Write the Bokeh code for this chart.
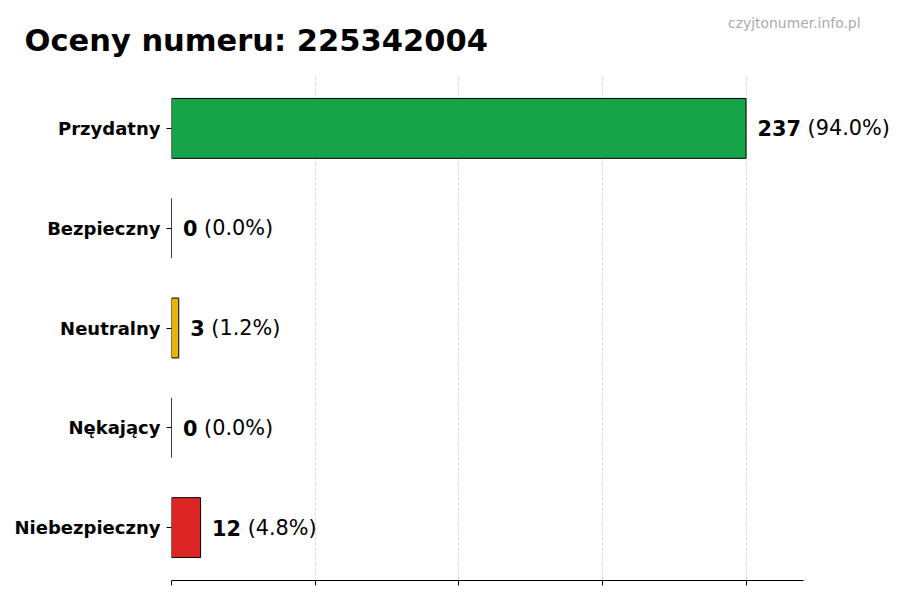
from bokeh.plotting import figure
from bokeh.models import Range1d, FixedTicker, ColumnDataSource, Label
from bokeh.core.properties import value
from bokeh.embed import file_html
from bokeh.resources import INLINE

categories = ["Przydatny", "Bezpieczny", "Neutralny", "Nękający", "Niebezpieczny"]
counts = [237, 0, 3, 0, 12]
percents = ["94.0%", "0.0%", "1.2%", "0.0%", "4.8%"]
colors = ["#16a34a", "#2563eb", "#eab308", "#f97316", "#dc2626"]
title_text = "Oceny numeru: 225342004"
watermark = "czyjtonumer.info.pl"

FONT = "DejaVu Sans"
n = len(categories)
ypos = [n - 1 - i for i in range(n)]
vmax = max(counts)
xmax = vmax * 1.1          # axis extent
ylo, yhi = -0.53, n - 1 + 0.53

# canvas layout (pixels)
W, H = 892, 592
FL, FT, FB = 171, 75, 580          # frame left / top / bottom
AXR = 803                          # x of the axis end (xmax)
kx = (AXR - FL) / xmax             # px per unit
ky = (FB - FT) / (yhi - ylo)
x_end = (W - FL) / kx              # frame extends to canvas edge (room for value labels)

VAL_PX = 20.8
num_txt = [str(c) for c in counts]
pct_txt = [f"({p})" for p in percents]
pct_off = [(len(s) * 0.696 + 0.318) * VAL_PX for s in num_txt]

src = ColumnDataSource(dict(
    y=ypos, right=counts, left=[0] * n, color=colors,
    tx=[c + vmax * 0.02 for c in counts], num=num_txt, pct=pct_txt, off=pct_off,
))

p = figure(width=W, height=H, output_backend="svg", toolbar_location=None,
           x_range=Range1d(0, x_end), y_range=Range1d(ylo, yhi),
           min_border_left=FL, min_border_right=0, min_border_top=FT,
           min_border_bottom=H - FB)
p.outline_line_color = None
p.background_fill_color = "white"

p.hbar(y="y", left="left", right="right", height=0.6, fill_color="color",
       line_color="black", line_width=1, source=src)
p.text(x="tx", y="y", text="num", source=src, text_font=value(FONT),
       text_font_size="20.8px", text_font_style="bold", text_baseline="middle",
       text_align="left", text_color="black")
p.text(x="tx", y="y", text="pct", source=src, x_offset="off", text_font=value(FONT),
       text_font_size="20.8px", text_baseline="middle", text_align="left", text_color="black")

# axes
ticks = [vmax * k / 4 for k in range(5)]
p.xaxis.ticker = FixedTicker(ticks=ticks)
p.xaxis.major_label_overrides = {t: "" for t in ticks}
p.xaxis.major_label_standoff = 0
p.xaxis.major_tick_out = 5
p.xaxis.major_tick_in = 0
p.xaxis.minor_tick_line_color = None
p.xaxis.axis_line_color = "black"
p.xaxis.axis_line_width = 1
p.xaxis.bounds = (0, xmax)

p.yaxis.ticker = FixedTicker(ticks=ypos)
p.yaxis.major_label_overrides = {y: c for y, c in zip(ypos, categories)}
p.yaxis.major_label_text_font = FONT
p.yaxis.major_label_text_font_size = "18px"
p.yaxis.major_label_text_font_style = "bold"
p.yaxis.major_label_text_color = "black"
p.yaxis.major_label_standoff = 6
p.yaxis.major_tick_out = 5
p.yaxis.major_tick_in = 0
p.yaxis.minor_tick_line_color = None
p.yaxis.axis_line_color = None

p.ygrid.grid_line_color = None
p.xgrid.grid_line_color = "#cccccc"
p.xgrid.grid_line_dash = "3 2"
p.xgrid.grid_line_width = 0.8

# title and watermark, placed in the top panel (not clipped to the frame)
def dx(px):
    return (px - FL) / kx

def dy(py):
    return yhi + (FT - py) / ky

p.add_layout(Label(x=dx(24), y=dy(39.7), text=title_text, text_font=FONT,
                   text_font_size="30.5px", text_font_style="bold", text_color="black",
                   text_align="left", text_baseline="alphabetic"), "above")
p.add_layout(Label(x=dx(860), y=dy(22), text=watermark, text_font=FONT,
                   text_font_size="13.9px", text_color="#aaaaaa",
                   text_align="right", text_baseline="alphabetic"), "above")

open("out.html", "w").write(file_html(p, INLINE))
